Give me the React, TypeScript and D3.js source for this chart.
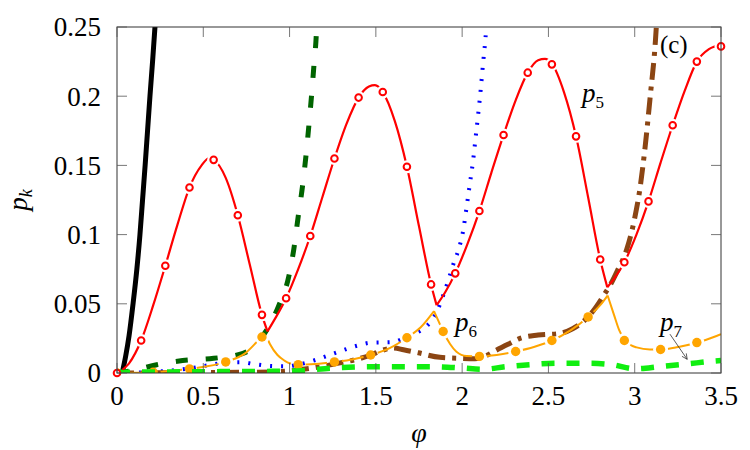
import React from 'react';
import * as d3 from 'd3';

const W = 750;
const H = 450;
const margin = { left: 117, right: 29, top: 27, bottom: 77 };

const xTicks = [0, 0.5, 1, 1.5, 2, 2.5, 3, 3.5];
const yTicks = [0, 0.05, 0.1, 0.15, 0.2, 0.25];
const xTickLabels = ['0', '0.5', '1', '1.5', '2', '2.5', '3', '3.5'];
const yTickLabels = ['0', '0.05', '0.1', '0.15', '0.2', '0.25'];

type Pt = [number, number];

// p1 – black solid
const p1: Pt[] = [
  [0.03, 0], [0.05, 0.012], [0.07, 0.027], [0.093, 0.05], [0.115, 0.075], [0.133, 0.1],
  [0.148, 0.125], [0.163, 0.15], [0.177, 0.175], [0.191, 0.2], [0.206, 0.225], [0.22, 0.25], [0.225, 0.26],
];

// p2 – dark green dashed
const p2: Pt[] = [
  [0, 0], [0.1, 0.002], [0.23, 0.006], [0.38, 0.009], [0.56, 0.0106], [0.73, 0.0142], [0.8, 0.02],
  [0.867, 0.031], [0.935, 0.048], [0.995, 0.0695], [1.024, 0.089], [1.05, 0.113], [1.075, 0.135],
  [1.095, 0.157], [1.112, 0.179], [1.127, 0.2], [1.141, 0.222], [1.155, 0.245], [1.16, 0.26],
];

// p3 – blue dotted
const p3: Pt[] = [
  [0, 0], [0.2, 0.0008], [0.4, 0.003], [0.55, 0.006], [0.65, 0.0078], [0.72, 0.0078], [0.8, 0.0063],
  [0.9, 0.005], [0.98, 0.0048], [1.05, 0.006], [1.15, 0.0094], [1.27, 0.0147], [1.4, 0.02], [1.47, 0.0219],
  [1.55, 0.0222], [1.6, 0.0224], [1.66, 0.025], [1.73, 0.0286], [1.79, 0.0334], [1.83, 0.039],
  [1.862, 0.0467], [1.89, 0.056], [1.92, 0.067], [1.95, 0.079], [1.978, 0.0887], [2.006, 0.103],
  [2.026, 0.12], [2.045, 0.137], [2.064, 0.154], [2.078, 0.17], [2.093, 0.187], [2.107, 0.204],
  [2.12, 0.222], [2.14, 0.25], [2.145, 0.26],
];

// p4 – brown dash-dot
const p4: Pt[] = [
  [0, 0], [0.5, 0.0003], [0.9, 0.0008], [1.0, 0.0015], [1.1, 0.003], [1.2, 0.005], [1.3, 0.0075],
  [1.39, 0.0099], [1.47, 0.013], [1.54, 0.0165], [1.6, 0.018], [1.66, 0.0168], [1.746, 0.0146],
  [1.871, 0.0113], [1.987, 0.0106], [2.074, 0.0103], [2.13, 0.012], [2.2, 0.0166], [2.27, 0.021],
  [2.335, 0.025], [2.44, 0.0274], [2.567, 0.0286], [2.64, 0.032], [2.7, 0.037], [2.76, 0.045],
  [2.82, 0.056], [2.86, 0.064], [2.9, 0.074], [2.953, 0.089], [3.0, 0.112], [3.03, 0.133],
  [3.06, 0.163], [3.09, 0.2], [3.12, 0.24], [3.13, 0.26],
];

// p5 – red, smooth pieces between cusps
const p5Curve: Pt[][] = [
  [[0, 0], [0.07, 0.007], [0.14, 0.0235], [0.21, 0.049], [0.28, 0.0775], [0.35, 0.107], [0.42, 0.134],
    [0.49, 0.15], [0.53, 0.155], [0.56, 0.154], [0.63, 0.141], [0.7, 0.114], [0.77, 0.078], [0.84, 0.042], [0.872, 0.03]],
  [[0.872, 0.03], [0.91, 0.038], [0.98, 0.054], [1.05, 0.075], [1.12, 0.099], [1.19, 0.127], [1.26, 0.155],
    [1.33, 0.18], [1.4, 0.199], [1.46, 0.207], [1.495, 0.208], [1.54, 0.203], [1.61, 0.182], [1.68, 0.149],
    [1.75, 0.106], [1.82, 0.064], [1.852, 0.049]],
  [[1.852, 0.049], [1.9, 0.058], [1.96, 0.072], [2.03, 0.093], [2.1, 0.117], [2.17, 0.145], [2.24, 0.172],
    [2.31, 0.197], [2.38, 0.217], [2.44, 0.226], [2.48, 0.227], [2.52, 0.2235], [2.59, 0.203], [2.66, 0.171],
    [2.73, 0.127], [2.8, 0.082], [2.841, 0.062]],
  [[2.841, 0.062], [2.88, 0.068], [2.94, 0.08], [3.01, 0.1], [3.08, 0.124], [3.15, 0.152], [3.22, 0.179],
    [3.29, 0.204], [3.36, 0.225], [3.43, 0.234], [3.5, 0.237]],
];
const p5Marks: Pt[] = [
  [0, 0], [0.14, 0.0235], [0.28, 0.0775], [0.42, 0.134], [0.56, 0.154], [0.7, 0.114], [0.84, 0.042],
  [0.98, 0.054], [1.12, 0.099], [1.26, 0.155], [1.4, 0.199], [1.54, 0.203], [1.68, 0.149], [1.82, 0.064],
  [1.96, 0.072], [2.1, 0.117], [2.24, 0.172], [2.38, 0.217], [2.52, 0.223], [2.66, 0.171], [2.8, 0.082],
  [2.94, 0.08], [3.08, 0.124], [3.22, 0.179], [3.36, 0.225], [3.5, 0.236],
];

// p6 – orange, smooth pieces between cusps
const p6Curve: Pt[][] = [
  [[0, 0], [0.21, 0.0005], [0.42, 0.003], [0.63, 0.008], [0.74, 0.014], [0.84, 0.026], [0.86, 0.028]],
  [[0.86, 0.028], [0.886, 0.021], [0.93, 0.013], [0.97, 0.009], [1.0, 0.007], [1.05, 0.006], [1.15, 0.0065],
    [1.26, 0.008], [1.37, 0.01], [1.47, 0.013], [1.58, 0.018], [1.68, 0.0255], [1.76, 0.033], [1.837, 0.0447]],
  [[1.837, 0.0447], [1.865, 0.037], [1.89, 0.03], [1.93, 0.021], [1.967, 0.0154], [2.026, 0.0123], [2.1, 0.012],
    [2.2, 0.013], [2.31, 0.0155], [2.42, 0.019], [2.52, 0.0235], [2.63, 0.031], [2.73, 0.0405], [2.8, 0.049], [2.843, 0.056]],
  [[2.843, 0.056], [2.88, 0.042], [2.91, 0.031], [2.943, 0.0238], [2.98, 0.02], [3.011, 0.0185], [3.088, 0.017],
    [3.156, 0.017], [3.26, 0.019], [3.364, 0.022], [3.474, 0.0267], [3.5, 0.028]],
];
const p6Marks: Pt[] = [
  [0, 0], [0.21, 0.0005], [0.42, 0.003], [0.63, 0.008], [0.84, 0.026], [1.05, 0.006], [1.26, 0.008],
  [1.47, 0.013], [1.68, 0.0255], [1.89, 0.03], [2.1, 0.012], [2.31, 0.0155], [2.52, 0.0235], [2.73, 0.0405],
  [2.94, 0.0235], [3.15, 0.017], [3.36, 0.022],
];

// p7 – bright green dashed
const p7: Pt[] = [
  [0, 0.0005], [0.3, 0.0008], [0.6, 0.001], [0.9, 0.0012], [1.07, 0.0017], [1.234, 0.0034], [1.524, 0.0046],
  [1.81, 0.0046], [2.0, 0.0036], [2.12, 0.0027], [2.25, 0.0045], [2.39, 0.006], [2.547, 0.007], [2.74, 0.007],
  [2.87, 0.006], [3.0, 0.003], [3.146, 0.0046], [3.3, 0.0065], [3.45, 0.0085], [3.5, 0.009],
];

const serif = 'Tinos, "Times New Roman", "Liberation Serif", "DejaVu Serif", "Noto Serif", serif';

export default function App() {
  const x = d3.scaleLinear().domain([0, 3.5]).range([margin.left, W - margin.right]);
  const y = d3.scaleLinear().domain([0, 0.25]).range([H - margin.bottom, margin.top]);
  const line = d3.line<Pt>().x(d => x(d[0])).y(d => y(d[1])).curve(d3.curveMonotoneX);

  const x0 = x(0), x1 = x(3.5), y0 = y(0), y1 = y(0.25);

  const arrowFrom: Pt = [x(3.204), y(0.0281)];
  const arrowTo: Pt = [x(3.304), y(0.0099)];
  const ang = Math.atan2(arrowTo[1] - arrowFrom[1], arrowTo[0] - arrowFrom[0]);
  const head = (a: number) => [arrowTo[0] - 6 * Math.cos(ang + a), arrowTo[1] - 6 * Math.sin(ang + a)];
  const h1 = head(0.45), h2 = head(-0.45);

  return (
    <svg width={W} height={H} style={{ position: 'absolute', left: 0, top: 0, background: '#fff', fontFamily: serif }}>
      <defs>
        <clipPath id="plot">
          <rect x={x0} y={y1} width={x1 - x0} height={y0 - y1} />
        </clipPath>
        <mask id="gap5" maskUnits="userSpaceOnUse" x={0} y={0} width={W} height={H}>
          <rect x={0} y={0} width={W} height={H} fill="white" />
          {p5Marks.map((d, i) => <circle key={i} cx={x(d[0])} cy={y(d[1])} r={6.5} fill="black" />)}
        </mask>
        <mask id="gap6" maskUnits="userSpaceOnUse" x={0} y={0} width={W} height={H}>
          <rect x={0} y={0} width={W} height={H} fill="white" />
          {p6Marks.map((d, i) => <circle key={i} cx={x(d[0])} cy={y(d[1])} r={7.5} fill="black" />)}
        </mask>
      </defs>

      <g clipPath="url(#plot)" fill="none">
        <path d={line(p1) || ''} stroke="#000" strokeWidth={5} />
        <path d={line(p2) || ''} stroke="#006400" strokeWidth={5} strokeDasharray="12,18" />
        <path d={line(p3) || ''} stroke="#0000ff" strokeWidth={4} strokeDasharray="2,9" />
        <path d={line(p4) || ''} stroke="#8b4513" strokeWidth={5} strokeDasharray="17,7,4,7" />
        <g mask="url(#gap6)">
          {p6Curve.map((seg, i) => (
            <path key={i} d={line(seg) || ''} stroke="#ffa500" strokeWidth={2} />
          ))}
        </g>
        {p6Marks.map((d, i) => (
          <circle key={i} cx={x(d[0])} cy={y(d[1])} r={4.7} fill="#ffa500" />
        ))}
        <path d={line(p7) || ''} stroke="#10ee10" strokeWidth={5.5} strokeDasharray="13,12" />
        <g mask="url(#gap5)">
          {p5Curve.map((seg, i) => (
            <path key={i} d={line(seg) || ''} stroke="#ff0000" strokeWidth={2.2} />
          ))}
        </g>
      </g>
      {p5Marks.map((d, i) => (
        <circle key={i} cx={x(d[0])} cy={y(d[1])} r={3.3} fill="#fff" stroke="#ff0000" strokeWidth={2} />
      ))}

      {/* frame and ticks */}
      <rect x={x0} y={y1} width={x1 - x0} height={y0 - y1} fill="none" stroke="#333" strokeWidth={1} />
      {xTicks.map(t => (
        <g key={t} stroke="#555" strokeWidth={0.8}>
          <line x1={x(t)} x2={x(t)} y1={y0} y2={y0 - 10} />
          <line x1={x(t)} x2={x(t)} y1={y1} y2={y1 + 10} />
        </g>
      ))}
      {yTicks.map(t => (
        <g key={t} stroke="#555" strokeWidth={0.8}>
          <line x1={x0} x2={x0 + 10} y1={y(t)} y2={y(t)} />
          <line x1={x1} x2={x1 - 10} y1={y(t)} y2={y(t)} />
        </g>
      ))}

      <g fontSize={27} fill="#000">
        {xTicks.map((t, i) => (
          <text key={t} x={x(t)} y={y0 + 32} textAnchor="middle">{xTickLabels[i]}</text>
        ))}
        {yTicks.map((t, i) => (
          <text key={t} x={x0 - 16} y={y(t)} dy="0.35em" textAnchor="end">{yTickLabels[i]}</text>
        ))}
      </g>

      {/* axis labels */}
      <text x={(x0 + x1) / 2} y={442} fontSize={28} fontStyle="italic" textAnchor="middle">φ</text>
      <text transform={`translate(27,${(y0 + y1) / 2}) rotate(-90)`} fontSize={27} fontStyle="italic" textAnchor="middle">
        p<tspan fontSize={18} dy={5}>k</tspan>
      </text>

      {/* curve labels */}
      <g fill="#000">
        <text x={x(2.694)} y={y(0.196)} fontSize={27} fontStyle="italic">p<tspan fontSize={17} fontStyle="normal" dy={6}>5</tspan></text>
        <text x={x(1.958)} y={y(0.0303)} fontSize={27} fontStyle="italic">p<tspan fontSize={17} fontStyle="normal" dy={6}>6</tspan></text>
        <text x={x(3.146)} y={y(0.0303)} fontSize={27} fontStyle="italic">p<tspan fontSize={17} fontStyle="normal" dy={6}>7</tspan></text>
        <text x={x(3.146)} y={y(0.231)} fontSize={25}>(c)</text>
      </g>
      <g stroke="#333" strokeWidth={0.8} fill="none">
        <line x1={arrowFrom[0]} y1={arrowFrom[1]} x2={arrowTo[0]} y2={arrowTo[1]} />
        <polyline points={`${h1[0]},${h1[1]} ${arrowTo[0]},${arrowTo[1]} ${h2[0]},${h2[1]}`} />
      </g>
    </svg>
  );
}
